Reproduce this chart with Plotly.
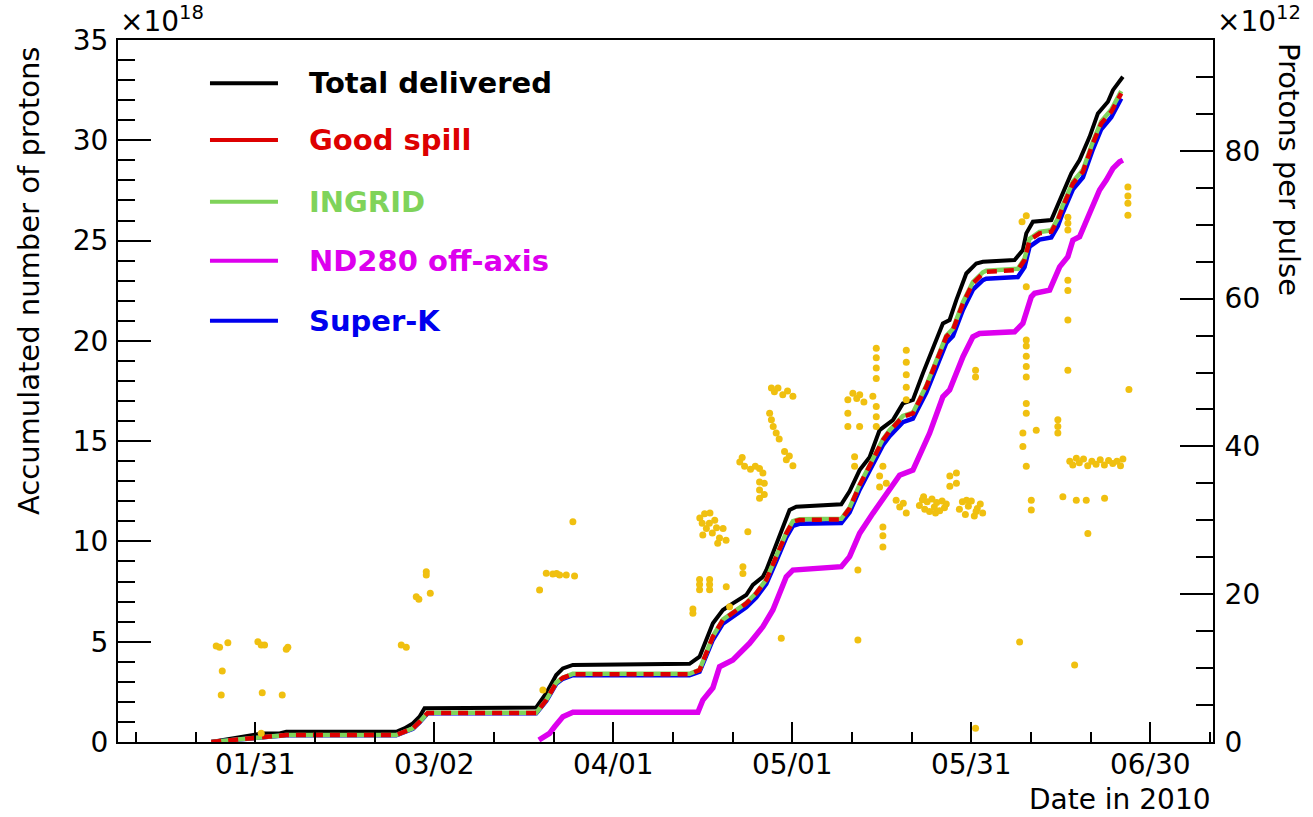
import pandas as pd
import plotly.graph_objects as go

# ---------------------------------------------------------------------------
# Data: days are counted from 2010-01-01 00:00 (fractional days)
# Accumulated protons in units of 1e18, protons per pulse in units of 1e12
# ---------------------------------------------------------------------------
total_day = [22.63, 30.17, 31.27, 34.07, 35.2, 53.63, 55.0, 56.41, 57.53, 58.37,
             77.09, 78.77, 80.44, 81.55, 83.23, 102.78, 104.46, 106.69, 108.36,
             110.04, 112.28, 113.39, 115.07, 115.64, 116.74, 117.87, 119.54,
             120.67, 128.21, 129.6, 131.28, 132.95, 134.63, 136.86, 138.53,
             140.21, 141.88, 145.23, 146.36, 147.48, 149.16, 150.83, 151.94,
             157.25, 158.64, 159.21, 160.32, 163.4, 165.08, 166.75, 168.14,
             169.82, 171.21, 172.89, 173.73, 175.4]
total_pot = [0.0, 0.35, 0.43, 0.43, 0.51, 0.51, 0.68, 0.93, 1.26, 1.68,
             1.72, 2.43, 3.34, 3.67, 3.84, 3.9, 4.25, 5.92, 6.58,
             6.91, 7.33, 7.83, 8.24, 8.57, 9.41, 10.4, 11.57,
             11.73, 11.85, 12.5, 13.56, 14.2, 15.55, 16.05, 16.88,
             17.05, 18.38, 20.87, 21.04, 22.03, 23.36, 23.86, 23.94,
             24.03, 24.53, 25.36, 25.94, 26.02, 27.18, 28.35, 29.01,
             30.17, 31.34, 31.92, 32.5, 33.17]

good_day = [22.63, 30.17, 35.2, 53.63, 56.41, 57.53, 58.9, 77.09, 78.77, 80.44,
            81.55, 83.23, 102.78, 104.46, 106.69, 108.36, 110.04, 112.28,
            113.95, 115.64, 117.31, 118.99, 120.1, 121.2, 128.21, 129.6,
            131.28, 132.95, 135.18, 136.3, 138.53, 140.21, 142.45, 145.8,
            146.92, 148.6, 150.26, 151.94, 152.5, 157.8, 158.92, 159.76,
            161.43, 163.4, 164.5, 165.34, 167.02, 168.7, 170.37, 171.77,
            173.45, 175.12]
good_pot = [0.0, 0.21, 0.35, 0.35, 0.68, 1.0, 1.45, 1.45, 2.09, 2.95,
            3.2, 3.38, 3.38, 3.59, 5.25, 6.08, 6.42, 6.91,
            7.41, 8.08, 9.24, 10.4, 10.98, 11.07, 11.1, 11.65,
            12.8, 13.72, 15.05, 15.5, 16.22, 16.38, 17.71, 20.2,
            20.54, 21.87, 22.87, 23.36, 23.44, 23.53, 24.03, 25.02,
            25.36, 25.44, 26.02, 26.69, 27.85, 28.43, 29.84, 30.84,
            31.42, 32.34]

ingrid_day = good_day
ingrid_pot = [0.0, 0.21, 0.35, 0.35, 0.68, 1.0, 1.46, 1.46, 2.1, 2.96,
              3.21, 3.4, 3.4, 3.6, 5.27, 6.1, 6.44, 6.93,
              7.43, 8.1, 9.27, 10.43, 11.01, 11.1, 11.13, 11.68,
              12.83, 13.76, 15.09, 15.54, 16.26, 16.42, 17.76, 20.25,
              20.6, 21.93, 22.93, 23.42, 23.5, 23.59, 24.1, 25.09,
              25.43, 25.51, 26.1, 26.77, 27.93, 28.52, 29.93, 30.94,
              31.52, 32.45]

superk_day = good_day
superk_pot = [0.0, 0.2, 0.34, 0.34, 0.66, 0.98, 1.43, 1.43, 2.05, 2.9,
              3.15, 3.33, 3.33, 3.5, 5.1, 5.9, 6.25, 6.72,
              7.2, 7.88, 9.02, 10.2, 10.78, 10.88, 10.92, 11.45,
              12.58, 13.5, 14.8, 15.25, 15.95, 16.12, 17.42, 19.9,
              20.24, 21.55, 22.55, 23.03, 23.1, 23.18, 23.68, 24.7,
              25.05, 25.15, 25.72, 26.4, 27.55, 28.15, 29.55, 30.55,
              31.15, 32.09]

nd280_day = [77.53, 79.32, 80.16, 81.55, 83.23, 104.18, 105.01, 106.69, 107.81,
             110.04, 112.84, 115.07, 116.74, 118.99, 120.1, 128.21, 129.6,
             131.28, 133.5, 135.75, 137.98, 140.21, 143.0, 145.23, 146.36,
             148.6, 150.26, 151.38, 157.25, 158.64, 160.05, 160.6, 163.12,
             164.8, 166.18, 167.02, 168.14, 169.82, 171.49, 172.62, 173.73,
             174.85, 175.4]
nd280_pot = [0.1, 0.43, 0.76, 1.26, 1.48, 1.48, 2.09, 2.7, 3.75,
             4.09, 4.92, 5.75, 6.58, 8.24, 8.57, 8.74, 9.24,
             10.4, 11.4, 12.4, 13.3, 13.56, 15.39, 17.21, 17.55,
             19.21, 20.2, 20.37, 20.45, 20.87, 22.2, 22.37, 22.53,
             23.69, 24.2, 25.02, 25.19, 26.36, 27.52, 28.02, 28.6,
             28.93, 29.01]

pulse_day = [23.46, 24.02, 25.41, 30.44, 31.0, 31.56, 35.46, 35.2, 24.47, 24.3,
             31.17, 34.52, 31.0,
             54.47, 55.31, 56.98, 57.42, 59.33, 58.66, 58.66,
             78.77, 79.87, 81.0, 82.12, 83.51, 80.5, 77.65, 78.2, 83.23,
             104.5, 104.9, 105.3, 105.6, 106.1, 106.6, 107.0, 107.3, 107.8, 108.4,
             108.9, 105.0, 106.2, 107.5,
             104.46, 104.46, 104.46, 106.14, 106.14, 106.14, 108.93, 103.34,
             103.34, 109.49, 111.72, 111.72, 112.55,
             111.2, 111.6, 112.0, 113.0, 113.8, 114.5,
             114.51, 114.51, 114.51, 115.07, 115.3, 115.3,
             116.2, 116.5, 116.8, 117.3, 117.8,
             116.5, 117.0, 117.6, 118.4, 119.2, 120.1,
             118.7, 119.0, 120.1, 119.5, 118.15,
             129.31, 129.31, 129.31, 130.15, 130.8, 131.3, 132.0, 133.5, 131.28,
             130.44, 130.44, 134.07, 134.07, 134.07, 134.07, 134.07, 134.07,
             134.07, 134.63, 134.63, 135.18, 135.75, 135.18, 135.18, 135.18,
             130.99, 130.99,
             137.4, 138.0, 138.6, 139.1,
             139.1, 139.1, 139.1, 139.1, 139.1,
             141.3, 141.8, 142.2, 142.6, 143.0, 143.4, 143.8, 144.2, 144.7, 145.1,
             145.5, 145.8, 142.0, 144.0,
             146.4, 146.4, 147.5, 147.5,
             148.0, 148.5, 149.0, 149.5, 150.0, 150.5, 151.0, 151.5, 151.9, 149.2,
             150.8, 150.71, 150.71, 150.71,
             159.21, 159.21, 159.21, 159.21, 159.21, 159.21, 159.21, 158.64,
             158.64, 159.21, 160.05, 160.05, 160.88, 159.21, 159.21, 158.5,
             158.09,
             164.5, 164.5, 164.5, 165.34, 166.18, 166.18, 166.18, 166.18, 166.18,
             166.18, 166.18, 167.59, 169.26, 169.53, 167.31,
             166.5, 167.0, 167.6, 168.1, 168.8, 169.5, 170.2, 170.9, 171.6, 172.3,
             173.0, 173.7, 174.4, 175.0, 175.4, 172.33,
             176.24, 176.24, 176.24, 176.24, 176.41]
pulse_e12 = [12.99, 12.82, 13.44, 13.57, 13.13, 13.13, 12.82, 12.55, 9.61, 6.36,
             6.67, 6.36, 1.18,
             13.13, 12.82, 19.66, 19.31, 20.12, 23.05, 22.6,
             22.83, 22.74, 22.6, 22.6, 22.46, 22.8, 20.57, 7.04, 29.81,
             30.3, 29.6, 30.9, 28.9, 29.6, 28.3, 30.0, 29.0, 27.6, 28.9,
             27.3, 28.0, 31.0, 26.9,
             20.6, 21.3, 22.0, 20.6, 21.3, 22.0, 21.0, 17.42,
             18.0, 18.31, 22.8, 23.7, 28.46,
             37.9, 38.5, 37.3, 36.9, 37.3, 37.0,
             33.0, 34.1, 35.2, 36.4, 33.5, 35.0,
             44.5, 43.6, 42.7, 41.8, 41.0,
             47.9, 47.4, 47.9, 47.0, 47.5, 46.8,
             39.3, 38.2, 37.4, 38.7, 14.03,
             42.7, 44.5, 46.3, 47.2, 46.5, 47.0, 46.0, 46.8, 42.7,
             37.3, 38.6, 49.2, 50.6, 52.0, 53.3, 42.7, 44.0,
             45.4, 34.5, 36.0, 37.3, 35.0, 26.4, 27.9, 29.1,
             23.28, 13.8,
             32.7, 31.8, 32.3, 31.0,
             46.3, 48.0, 49.7, 51.4, 53.0,
             32.0, 32.8, 31.5, 32.5, 31.2, 32.9, 31.8, 32.4, 31.3, 32.6,
             31.7, 32.2, 33.2, 31.0,
             34.6, 36.0, 35.0, 36.4,
             31.5, 32.5, 30.8, 31.9, 32.6, 30.6, 31.6, 32.2, 31.0, 32.7,
             31.2, 49.4, 50.3, 1.85,
             49.4, 50.8, 52.2, 53.6, 54.4, 44.5, 45.8, 40.0,
             41.8, 37.3, 31.4, 32.7, 42.2, 61.6, 71.2, 70.4,
             13.53,
             41.8, 42.7, 43.6, 33.2, 70.2, 71.0, 69.3, 61.1, 62.5,
             57.1, 50.3, 32.7, 32.7, 28.2, 10.42,
             38.0, 37.5, 38.4, 37.8, 38.3, 37.4, 38.0, 37.6, 38.2, 37.5,
             38.1, 37.7, 38.0, 37.4, 38.3, 33.0,
             72.9, 73.9, 75.1, 71.3, 47.7]

# Axis setup
date_start, date_end = "2010-01-08", "2010-07-10 12:00"
pot_range = [0, 35]
pulse_range = [0, 95]

legend_names = ["Total delivered", "Good spill", "INGRID", "ND280 off-axis", "Super-K"]
legend_colors = ["#000000", "#dd0000", "#7fd35a", "#dd00ee", "#0000ee"]

BASE = pd.Timestamp("2010-01-01")


def to_dates(days):
    return [BASE + pd.Timedelta(days=d) for d in days]


FONT = "DejaVu Sans"
BLACK, RED, GREEN, MAGENTA, BLUE = legend_colors
YELLOW = "#f0c010"

fig = go.Figure()

fig.add_trace(go.Scatter(x=to_dates(total_day), y=total_pot, mode="lines",
                         line=dict(color=BLACK, width=4), yaxis="y",
                         name="Total delivered"))
fig.add_trace(go.Scatter(x=to_dates(nd280_day), y=nd280_pot, mode="lines",
                         line=dict(color=MAGENTA, width=5.5), yaxis="y",
                         name="ND280 off-axis"))
fig.add_trace(go.Scatter(x=to_dates(superk_day), y=superk_pot, mode="lines",
                         line=dict(color=BLUE, width=4.5), yaxis="y",
                         name="Super-K"))
fig.add_trace(go.Scatter(x=to_dates(ingrid_day), y=ingrid_pot, mode="lines",
                         line=dict(color=GREEN, width=4.5), yaxis="y",
                         name="INGRID"))
fig.add_trace(go.Scatter(x=to_dates(good_day), y=good_pot, mode="lines",
                         line=dict(color=RED, width=4.5, dash="10px,7px"),
                         yaxis="y", name="Good spill"))
fig.add_trace(go.Scatter(x=to_dates(pulse_day), y=pulse_e12, mode="markers",
                         marker=dict(color=YELLOW, size=7, line=dict(width=0)),
                         yaxis="y2", name="Protons per pulse"))

DAY_MS = 86400000

fig.update_layout(
    width=1313, height=817,
    margin=dict(l=118, r=100, t=40, b=75),
    paper_bgcolor="white", plot_bgcolor="white",
    showlegend=False,
    font=dict(family=FONT, size=28, color="black"),
    xaxis=dict(
        type="date", range=[date_start, date_end],
        tick0="2010-01-31", dtick=30 * DAY_MS, tickformat="%m/%d",
        ticks="inside", ticklen=20, tickwidth=2, tickcolor="black",
        minor=dict(tick0="2010-01-31", dtick=10 * DAY_MS, ticks="inside",
                   ticklen=10, tickwidth=2, tickcolor="black"),
        showline=True, linewidth=2, linecolor="black", mirror=True,
        showgrid=False, zeroline=False,
        tickfont=dict(family=FONT, size=28), ticklabelstandoff=-4,
    ),
    yaxis=dict(
        range=pot_range, dtick=5, ticks="inside", ticklen=33, tickwidth=2,
        tickcolor="black",
        minor=dict(dtick=1, ticks="inside", ticklen=17, tickwidth=2,
                   tickcolor="black"),
        showline=True, linewidth=2, linecolor="black",
        showgrid=False, zeroline=False,
        tickfont=dict(family=FONT, size=28), ticklabelstandoff=2,
    ),
    yaxis2=dict(
        range=pulse_range, dtick=20, overlaying="y", side="right", anchor="x",
        ticks="inside", ticklen=33, tickwidth=2, tickcolor="black",
        minor=dict(dtick=5, ticks="inside", ticklen=17, tickwidth=2,
                   tickcolor="black"),
        showline=True, linewidth=2, linecolor="black",
        showgrid=False, zeroline=False,
        tickfont=dict(family=FONT, size=28), ticklabelstandoff=4,
    ),
)

annotations = [
    dict(text="Accumulated number of protons", x=-0.0813, y=0.658,
         xref="paper", yref="paper", xanchor="center", yanchor="middle",
         textangle=-90, showarrow=False, font=dict(family=FONT, size=29)),
    dict(text="Protons per pulse", x=1.0694, y=0.8148,
         xref="paper", yref="paper", xanchor="center", yanchor="middle",
         textangle=90, showarrow=False, font=dict(family=FONT, size=29)),
    dict(text="Date in 2010", x=1.0, y=-0.0826, xref="paper", yref="paper",
         xanchor="right", yanchor="middle", showarrow=False,
         font=dict(family=FONT, size=28)),
    dict(text="×10<sup>18</sup>", x=0.0, y=1.0, xref="paper", yref="paper",
         xanchor="left", yanchor="bottom", showarrow=False,
         font=dict(family=FONT, size=28)),
    dict(text="×10<sup>12</sup>", x=1.0018, y=1.0, xref="paper", yref="paper",
         xanchor="left", yanchor="bottom", showarrow=False,
         font=dict(family=FONT, size=28)),
]

# Legend: a short line sample and bold coloured label per series
legend_rows_y = [0.9383, 0.8575, 0.7697, 0.6856, 0.6001]
shapes = []
for name, color, ly in zip(legend_names, legend_colors, legend_rows_y):
    shapes.append(dict(type="line", xref="paper", yref="paper",
                       x0=0.0840, x1=0.1461, y0=ly, y1=ly,
                       line=dict(color=color, width=4)))
    annotations.append(dict(text=f"<b>{name}</b>", x=0.1723, y=ly,
                            xref="paper", yref="paper", xanchor="left",
                            yanchor="middle", showarrow=False,
                            font=dict(family=FONT, size=29, color=color)))

fig.update_layout(annotations=annotations, shapes=shapes)

fig.write_html("out.html")
